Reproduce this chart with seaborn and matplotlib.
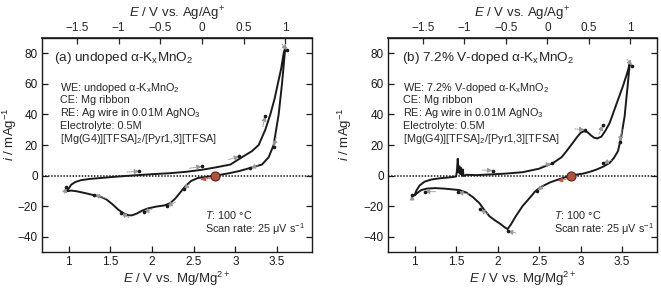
import numpy as np
import pandas as pd
import matplotlib
matplotlib.use("Agg")
from matplotlib import pyplot as plt
from matplotlib.ticker import FuncFormatter
import seaborn as sns

# ---- data: (a) undoped, loop starts at OCV, cathodic first ----
E_a = [2.76, 2.65, 2.55, 2.47, 2.40, 2.34, 2.28, 2.22, 2.15, 2.05, 1.95, 1.88, 1.82, 1.76, 1.72,
       1.67, 1.60, 1.52, 1.45, 1.38, 1.30, 1.20, 1.10, 1.03, 0.99, 0.98,
       1.00, 1.03, 1.08, 1.15, 1.25, 1.40, 1.55, 1.75, 2.00, 2.20, 2.40, 2.60, 2.75, 2.94, 3.10,
       3.20, 3.28, 3.36, 3.42, 3.47, 3.51, 3.55, 3.58, 3.60,
       3.58, 3.56, 3.54, 3.52, 3.49, 3.46, 3.40, 3.32, 3.18, 3.05, 2.94, 2.85, 2.76]
i_a = [0.0, -0.8, -1.6, -3.5, -7.0, -11.0, -15.0, -18.0, -19.5, -20.3, -21.5, -23.0, -24.8, -26.0, -26.0,
       -25.0, -22.5, -18.5, -15.5, -13.8, -12.8, -11.5, -10.3, -9.8, -10.2, -10.0,
       -8.5, -6.0, -4.2, -3.0, -2.2, -1.5, -0.8, 0.0, 0.9, 1.5, 2.4, 3.8, 5.2, 7.2, 12.7,
       16.0, 20.0, 30.0, 40.0, 50.0, 60.0, 70.0, 80.0, 84.0,
       72.0, 60.0, 50.0, 40.0, 30.0, 20.0, 12.0, 7.2, 5.0, 3.0, 1.7, 0.8, 0.0]

# ---- data: (b) 7.2% V-doped ----
E_b = [2.88, 2.75, 2.63, 2.52, 2.45, 2.38, 2.30, 2.22, 2.16, 2.12, 2.09, 2.03, 1.96, 1.90, 1.84,
       1.78, 1.70, 1.62, 1.54, 1.45, 1.35, 1.25, 1.15, 1.08, 1.03, 1.00,
       1.02, 1.06, 1.12, 1.20, 1.30, 1.45, 1.50, 1.51, 1.52, 1.53, 1.54, 1.55, 1.56, 1.57, 1.58,
       1.59, 1.62, 1.75, 1.90, 2.10, 2.30, 2.50, 2.67, 2.77, 2.83, 2.90, 2.95, 3.00, 3.04, 3.08,
       3.12, 3.16, 3.20, 3.25, 3.30, 3.35, 3.43, 3.51, 3.56, 3.59,
       3.57, 3.55, 3.53, 3.49, 3.45, 3.40, 3.35, 3.27, 3.19, 3.10, 3.03, 2.95, 2.88]
i_b = [0.0, -2.2, -4.5, -7.5, -10.5, -15.0, -20.0, -26.5, -32.0, -35.0, -34.0, -31.5, -29.0, -26.5, -22.5,
       -18.0, -14.0, -11.0, -9.5, -9.0, -8.5, -8.2, -8.5, -9.5, -11.5, -13.0,
       -10.0, -6.5, -4.0, -2.6, -1.8, -1.0, -0.6, 3.0, 11.0, 2.0, 6.0, 1.0, 5.0, 0.0, 4.0,
       -0.3, 0.5, 0.3, 0.7, 1.3, 2.2, 4.5, 8.3, 12.0, 16.0, 21.0, 24.7, 28.0, 29.0, 28.5,
       26.5, 24.8, 24.3, 25.5, 29.5, 34.5, 46.6, 58.6, 67.0, 72.8,
       60.8, 50.0, 38.9, 25.8, 16.0, 11.5, 8.3, 5.8, 3.9, 2.3, 1.3, 0.6, 0.0]

ocv_a = (2.76, 0.0)
ocv_b = (2.88, 0.0)

# sweep-direction arrows: (E_tail, i_tail, E_head, i_head)
arrows_a = [(1.70, 2.3, 1.85, 2.8), (2.45, 4.8, 2.60, 6.0), (2.92, 10.5, 3.05, 12.5),
            (3.33, 32.0, 3.36, 39.0), (3.56, 86.0, 3.62, 82.0), (3.49, 25.0, 3.46, 19.0),
            (3.27, 6.5, 3.18, 5.0), (2.45, -5.5, 2.38, -9.0), (2.28, -17.5, 2.18, -20.0),
            (2.00, -22.0, 1.90, -24.0), (1.72, -27.5, 1.63, -24.5), (1.45, -15.0, 1.31, -12.5),
            (0.95, -11.5, 0.97, -7.5)]
red_a = (2.72, -1.5, 2.58, -2.6)
arrows_b = [(1.82, 3.6, 1.94, 3.3), (2.52, 6.0, 2.65, 8.0), (2.93, 30.5, 3.05, 30.0),
            (3.22, 27.0, 3.27, 33.0), (3.56, 76.0, 3.62, 72.0), (3.50, 30.0, 3.47, 22.0),
            (3.37, 10.0, 3.27, 8.0), (2.55, -6.5, 2.48, -10.0), (2.22, -37.5, 2.12, -36.5),
            (1.88, -25.0, 1.79, -22.0), (1.65, -12.0, 1.52, -11.0), (1.25, -10.5, 1.12, -10.5),
            (0.97, -16.0, 0.97, -12.5)]
red_b = (2.85, -2.0, 2.72, -3.5)

titles = [r"(a) undoped α-K$_\mathrm{x}$MnO$_2$", r"(b) 7.2% V-doped α-K$_\mathrm{x}$MnO$_2$"]
we_lines = [r"WE: undoped α-K$_\mathrm{x}$MnO$_2$", r"WE: 7.2% V-doped α-K$_\mathrm{x}$MnO$_2$"]
info_lines = ["CE: Mg ribbon", r"RE: Ag wire in 0.01M AgNO$_3$", "Electrolyte: 0.5M",
              r"[Mg(G4)][TFSA]$_2$/[Pyr1,3][TFSA]"]
cond_lines = [r"$T$: 100 °C", r"Scan rate: 25 μV s$^{-1}$"]

ref_shift = 2.6  # Mg/Mg2+ -> Ag/Ag+

sns.set_theme(style="ticks")
plt.rcParams["font.family"] = ["Liberation Sans", "DejaVu Sans"]
plt.rcParams["mathtext.fontset"] = "custom"
plt.rcParams["mathtext.rm"] = "Liberation Sans"
plt.rcParams["mathtext.it"] = "Liberation Sans:italic"
plt.rcParams["mathtext.bf"] = "Liberation Sans:bold"

fig = plt.figure(figsize=(6.61, 2.9), dpi=100)
axes = [fig.add_axes([0.0635, 0.131, 0.4085, 0.738]),
        fig.add_axes([0.587, 0.131, 0.407, 0.738])]

fmt = FuncFormatter(lambda v, p: ("%g" % v).replace("-", "\u2212"))

panels = [(E_a, i_a, ocv_a, arrows_a, red_a), (E_b, i_b, ocv_b, arrows_b, red_b)]
for k, (ax, (E, I, ocv, arr, red)) in enumerate(zip(axes, panels)):
    df = pd.DataFrame({"E": E, "i": I})
    ax.axhline(0, color="k", lw=1.1, ls=(0, (1, 1)), zorder=1)
    sns.lineplot(data=df, x="E", y="i", sort=False, estimator=None, color="k", lw=1.4, ax=ax, zorder=3)
    for (x0, y0, x1, y1) in arr:
        ax.annotate("", xy=(x1, y1), xytext=(x0, y0),
                    arrowprops=dict(arrowstyle="-|>,head_length=0.25,head_width=0.12",
                                    color="0.6", lw=0.7, ls=(0, (1, 1)), shrinkA=0, shrinkB=0))
        ax.plot(x1, y1, "o", color="k", ms=1.6, zorder=4)
    ax.annotate("", xy=red[2:], xytext=red[:2],
                arrowprops=dict(arrowstyle="-|>,head_length=0.25,head_width=0.12",
                                color="#c0503a", lw=0.7, ls=(0, (1, 1)), shrinkA=0, shrinkB=0))
    ax.plot(*ocv, "o", ms=6.5, mfc="#b0523d", mec="#5a2418", mew=0.8, zorder=5)

    ax.set_xlim(0.68, 3.92)
    ax.set_ylim(-50, 90)
    ax.set_xticks([1, 1.5, 2, 2.5, 3, 3.5])
    ax.set_yticks([-40, -20, 0, 20, 40, 60, 80])
    ax.xaxis.set_major_formatter(fmt)
    ax.yaxis.set_major_formatter(fmt)
    ax.tick_params(direction="in", length=4, width=0.9, labelsize=8.5, right=True, top=False,
                   pad=3, colors="k")
    for s in ax.spines.values():
        s.set_linewidth(1.0)
        s.set_color("k")
    ax.set_xlabel(r"$E$ / V vs. Mg/Mg$^{2+}$", fontsize=9.5, labelpad=1)
    ax.set_ylabel(r"$i$ / mAg$^{-1}$", fontsize=9.5)
    ax.yaxis.set_label_coords([-0.085, -0.125][k], 0.55)

    top = ax.secondary_xaxis("top", functions=(lambda x: x - ref_shift, lambda x: x + ref_shift))
    top.set_xticks([-1.5, -1, -0.5, 0, 0.5, 1])
    top.xaxis.set_major_formatter(fmt)
    top.tick_params(direction="in", length=4, width=0.9, labelsize=8.5, pad=3)
    top.set_xlabel(r"$E$ / V vs. Ag/Ag$^{+}$", fontsize=9.5, labelpad=3)

    x0 = [0.044, 0.052][k]
    ax.text(x0, 0.906, titles[k], transform=ax.transAxes, fontsize=9.7, va="center", ha="left")
    xi = [0.067, 0.056][k]
    ys = [0.768, 0.708, 0.648, 0.588, 0.528]
    for line, y in zip([we_lines[k]] + info_lines, ys):
        ax.text(xi, y, line, transform=ax.transAxes, fontsize=7.8, va="center", ha="left")
    xc = [0.604, 0.617][k]
    for line, y in zip(cond_lines, [0.172, 0.108]):
        ax.text(xc, y, line, transform=ax.transAxes, fontsize=7.8, va="center", ha="left")

fig.savefig("out.png", dpi=100)
